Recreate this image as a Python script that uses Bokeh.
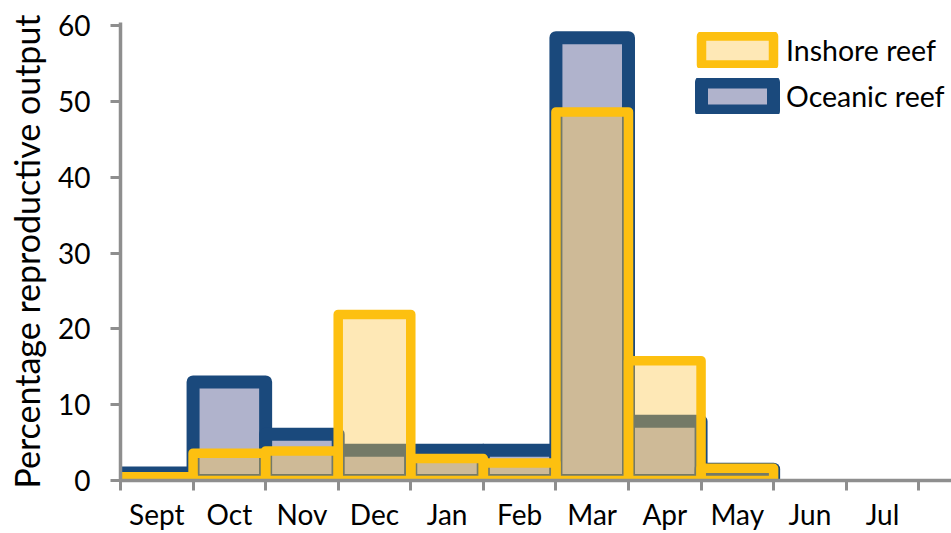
from bokeh.plotting import figure
from bokeh.models import (ColumnDataSource, Range1d, FixedTicker, CustomJSTickFormatter,
                          Legend, LegendItem)
from bokeh.embed import file_html
from bokeh.resources import INLINE

# ---- data ----
months = ["Sept", "Oct", "Nov", "Dec", "Jan", "Feb", "Mar", "Apr", "May", "Jun", "Jul", "Aug"]
data_months = ["Sept", "Oct", "Nov", "Dec", "Jan", "Feb", "Mar", "Apr", "May"]
oceanic = [1.0, 13.0, 6.1, 4.0, 4.0, 4.0, 58.4, 7.8, 1.5]
inshore = [0.5, 3.6, 3.9, 21.9, 2.9, 2.3, 48.6, 15.8, 1.6]
y_ticks = [0, 10, 20, 30, 40, 50, 60]

FONT = "Lato"
NAVY = "#1A497C"
GOLD = "#FDC010"
GRAY = "#8E8E8E"

xpos = [months.index(m) + 0.5 for m in data_months]
src_o = ColumnDataSource(dict(x=xpos, top=oceanic))
src_i = ColumnDataSource(dict(x=xpos, top=inshore))

p = figure(width=951, height=533, output_backend="svg", toolbar_location=None,
           x_range=Range1d(0, 831 / 72.57), y_range=Range1d(0, 60.4),
           min_border_left=120, min_border_right=0, min_border_top=22,
           min_border_bottom=53)
p.outline_line_color = None
p.xgrid.visible = False
p.ygrid.visible = False
p.background_fill_color = "white"

r_o = p.vbar(x="x", top="top", bottom=0, width=1.0, source=src_o,
             fill_color="#B0B3CC", fill_alpha=1.0,
             line_color=NAVY, line_width=13, line_join="round")
r_i = p.vbar(x="x", top="top", bottom=0, width=1.0, source=src_i,
             fill_color="#FCC548", fill_alpha=0.4,
             line_color=GOLD, line_width=9.5, line_join="round")

# x axis: labels at month centres, tick marks at boundaries (minor ticks)
xa = p.xaxis[0]
xa.ticker = FixedTicker(ticks=[i + 0.5 for i in range(len(months))],
                        minor_ticks=list(range(len(months) + 1)))
xa.formatter = CustomJSTickFormatter(args=dict(labels=months),
                                     code="return labels[Math.floor(tick)] || '';")
xa.major_tick_line_color = None
xa.major_tick_out = 10
xa.major_tick_in = 0
xa.minor_tick_line_color = GRAY
xa.minor_tick_line_width = 3
xa.minor_tick_out = 10
xa.minor_tick_in = 0
xa.axis_line_color = GRAY
xa.axis_line_width = 3.5
xa.major_label_standoff = 6
xa.major_label_text_font = FONT
xa.major_label_text_font_size = "28px"
xa.major_label_text_color = "black"

ya = p.yaxis[0]
ya.ticker = FixedTicker(ticks=y_ticks)
ya.major_tick_line_color = GRAY
ya.major_tick_line_width = 3
ya.major_tick_out = 10
ya.major_tick_in = 0
ya.minor_tick_line_color = None
ya.axis_line_color = GRAY
ya.axis_line_width = 3.5
ya.major_label_standoff = 20
ya.major_label_text_font = FONT
ya.major_label_text_font_size = "28px"
ya.major_label_text_color = "black"
ya.axis_label = "Percentage reproductive output"
ya.axis_label_text_font = FONT
ya.axis_label_text_font_size = "34px"
ya.axis_label_text_font_style = "normal"
ya.axis_label_text_color = "black"
ya.axis_label_standoff = 8

legend = Legend(items=[LegendItem(label="Inshore reef", renderers=[r_i]),
                       LegendItem(label="Oceanic reef", renderers=[r_o])],
                location=(572, 366), orientation="vertical",
                glyph_width=90, glyph_height=36, spacing=10, padding=0, margin=0,
                label_standoff=4, label_text_font=FONT, label_text_font_size="28.5px",
                label_text_color="black", border_line_color=None,
                background_fill_alpha=0)
p.add_layout(legend, "center")

open("out.html", "w").write(file_html(p, INLINE))
